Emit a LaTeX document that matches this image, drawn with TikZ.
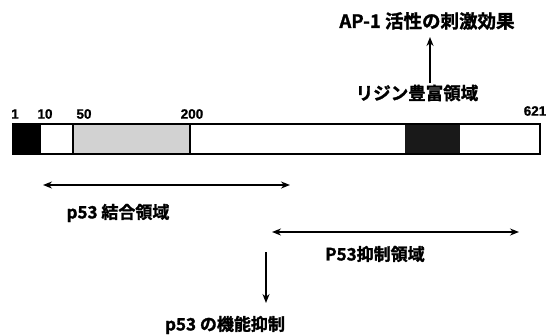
\documentclass[tikz,border=0pt]{standalone}
\usepackage{fontspec}
\setmainfont{Liberation Sans}[BoldFont={Liberation Sans Bold},BoldFeatures={FakeBold=1.2}]
\newfontfamily\jp{Noto Sans CJK JP}[BoldFont={Noto Sans CJK JP Bold},BoldFeatures={FakeBold=1.5}]
\usetikzlibrary{arrows.meta}
\tikzset{
  jplabel/.style={font=\jp\bfseries\fontsize{17}{19}\selectfont, inner sep=0pt},
  numlabel/.style={font=\bfseries\fontsize{13.5}{15}\selectfont, inner sep=0pt},
  conn/.style={line width=1.8pt, -{Stealth[length=9pt,width=7pt]}},
  dconn/.style={line width=1.8pt, {Stealth[length=9pt,width=7pt]}-{Stealth[length=9pt,width=7pt]}},
  barline/.style={line width=1.3pt}
}
\begin{document}
\begin{tikzpicture}[x=1pt,y=1pt]
\useasboundingbox (0,0) rectangle (548,-335);
% top labels
\node[jplabel, font=\jp\bfseries\fontsize{18.5}{20}\selectfont] (ap) at (427,-21) {AP-1 活性の刺激効果};
\node[jplabel, font=\jp\bfseries\fontsize{17.5}{19}\selectfont] (lys) at (417,-93) {リジン豊富領域};
\coordinate (upS) at (430,-83);
\coordinate (upN) at (430,-37);
\draw[conn] (upS) -- (upN);
% numbers
\node[numlabel] (n1) at (15,-114) {1};
\node[numlabel] (n10) at (45,-114) {10};
\node[numlabel] (n50) at (84,-114) {50};
\node[numlabel] (n200) at (192,-114) {200};
\node[numlabel] (n621) at (535,-111) {621};
% bar
\fill[black] (13,-124) rectangle (40,-154);
\fill[gray!35] (73,-124) rectangle (190,-154);
\fill[black!90] (405,-124) rectangle (460,-154);
\draw[barline] (13,-124) rectangle (540,-154);
\draw[barline] (40,-124) -- (40,-154);
\draw[barline] (73,-124) -- (73,-154);
\draw[barline] (190,-124) -- (190,-154);
% binding region
\coordinate (b1) at (43,-185);
\coordinate (b2) at (290,-185);
\draw[dconn] (b1) -- (b2);
\node[jplabel] (bind) at (118,-213) {p53 結合領域};
% suppression region
\coordinate (s1) at (272,-232);
\coordinate (s2) at (519,-232);
\draw[dconn] (s1) -- (s2);
\node[jplabel] (supp) at (375,-254) {P53抑制領域};
% function inhibition
\node[jplabel] (func) at (225,-325) {p53 の機能抑制};
\coordinate (dN) at (266,-252);
\coordinate (dS) at (266,-303);
\draw[conn] (dN) -- (dS);
\end{tikzpicture}
\end{document}
